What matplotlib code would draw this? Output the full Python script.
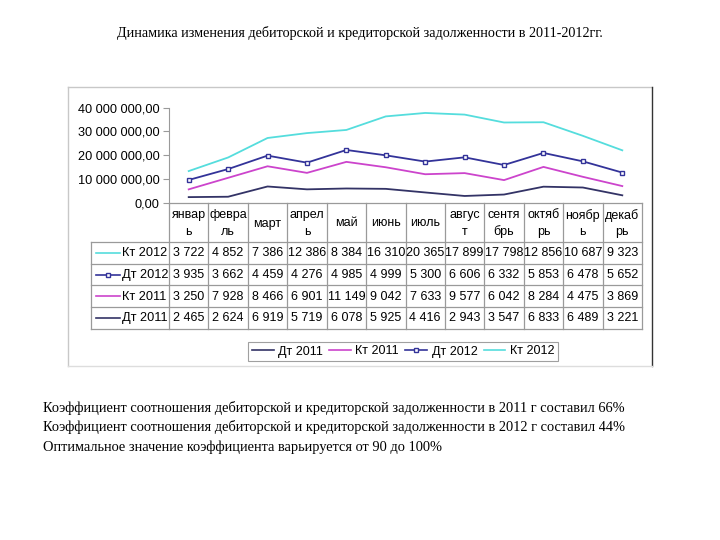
import numpy as np
import matplotlib
matplotlib.use("Agg")
import matplotlib.pyplot as plt
from matplotlib.ticker import FuncFormatter
from matplotlib.lines import Line2D

# ---- данные (тыс. руб.)
months = ["январ\nь", "февра\nль", "март", "апрел\nь", "май", "июнь", "июль",
          "авгус\nт", "сентя\nбрь", "октяб\nрь", "ноябр\nь", "декаб\nрь"]
dt_2011 = [2465, 2624, 6919, 5719, 6078, 5925, 4416, 2943, 3547, 6833, 6489, 3221]
kt_2011 = [3250, 7928, 8466, 6901, 11149, 9042, 7633, 9577, 6042, 8284, 4475, 3869]
dt_2012 = [3935, 3662, 4459, 4276, 4985, 4999, 5300, 6606, 6332, 5853, 6478, 5652]
kt_2012 = [3722, 4852, 7386, 12386, 8384, 16310, 20365, 17899, 17798, 12856, 10687, 9323]
yticks = [0, 10e6, 20e6, 30e6, 40e6]

title = "Динамика изменения дебиторской и кредиторской задолженности в 2011-2012гг."
notes = [
    "Коэффициент соотношения дебиторской и кредиторской задолженности в 2011 г составил 66%",
    "Коэффициент соотношения дебиторской и кредиторской задолженности в 2012 г составил 44%",
    "Оптимальное значение коэффициента варьируется от 90 до 100%",
]

# ---- стиль
SANS = ["Liberation Sans", "DejaVu Sans"]
SERIF = ["Liberation Serif", "DejaVu Serif"]
C_DT11 = "#333366"
C_KT11 = "#cc44cc"
C_DT12 = "#333399"
C_KT12 = "#55dddd"
GRID = "#9a9a9a"

series = [  # порядок накопления (линейчатая диаграмма с накоплением)
    ("Дт 2011", dt_2011, C_DT11, None),
    ("Кт 2011", kt_2011, C_KT11, None),
    ("Дт 2012", dt_2012, C_DT12, "s"),
    ("Кт 2012", kt_2012, C_KT12, None),
]

W, H = 720, 540
fig = plt.figure(figsize=(7.2, 5.4), dpi=100)

# overlay в пикселях: рамка, таблица, тексты
ov = fig.add_axes([0, 0, 1, 1])
ov.set_xlim(0, W)
ov.set_ylim(H, 0)
ov.axis("off")

# рамка области диаграммы
ov.plot([68, 652], [87, 87], color="#c8c8c8", lw=1)
ov.plot([68, 68], [87, 366], color="#c8c8c8", lw=1)
ov.plot([652, 652], [87, 366], color="#333333", lw=1)
ov.plot([68, 652], [366, 366], color="#dddddd", lw=1)

# ---- область построения
L, R, Y0, Y40 = 169, 642, 203, 107.5
ax = fig.add_axes([L / W, 1 - Y0 / H, (R - L) / W, (Y0 - Y40) / H])
ax.set_facecolor("none")
x = np.arange(len(months)) + 0.5
stack = np.cumsum([np.array(s[1]) * 1000 for s in series], axis=0)
for (name, vals, col, mk), top in zip(series, stack):
    ax.plot(x, top, color=col, lw=1.3, marker=mk, ms=3.2, mfc="white",
            mec=col, mew=1.0, clip_on=False)
ax.set_xlim(0, len(months))
ax.set_ylim(0, 40e6)
ax.set_yticks(yticks)
ax.yaxis.set_major_formatter(FuncFormatter(
    lambda v, p: f"{v:,.2f}".replace(",", " ").replace(".", ",")))
ax.set_xticks([])
for lab in ax.get_yticklabels():
    lab.set_fontfamily(SANS)
    lab.set_fontsize(9.2)
ax.tick_params(axis="y", length=4, color=GRID, pad=3)
for s in ("top", "right", "bottom"):
    ax.spines[s].set_visible(False)
ax.spines["left"].set_color(GRID)

# ---- таблица данных
colw = (R - L) / len(months)
edges = [L + colw * i for i in range(len(months) + 1)]
rows_top, rowh = 242, 21.7
n_rows = len(series)
ov.plot([L, R], [Y0, Y0], color=GRID, lw=0.9)
for e in edges:
    ov.plot([e, e], [Y0, rows_top + rowh * n_rows], color=GRID, lw=0.9)
ov.plot([91, 91], [rows_top, rows_top + rowh * n_rows], color=GRID, lw=0.9)
for i in range(n_rows + 1):
    yy = rows_top + rowh * i
    ov.plot([91, R], [yy, yy], color=GRID, lw=0.9)
for i, m in enumerate(months):
    ov.text(L + colw * (i + 0.5), (Y0 + rows_top) / 2 + 1, m, ha="center", va="center",
            fontsize=9.0, family=SANS, linespacing=1.5)
for r, (name, vals, col, mk) in enumerate(series[::-1]):
    yc = rows_top + rowh * (r + 0.5)
    ov.plot([96, 120], [yc, yc], color=col, lw=1.2)
    if mk:
        ov.plot([108], [yc], marker=mk, ms=3.2, mfc="white", mec=col, mew=1.0)
    ov.text(122, yc + 0.5, name, ha="left", va="center", fontsize=9.2, family=SANS)
    for i, v in enumerate(vals):
        ov.text(L + colw * (i + 0.5), yc + 0.5, f"{v:,}".replace(",", " "),
                ha="center", va="center", fontsize=9.0, family=SANS)

# ---- легенда
handles = [Line2D([0], [0], color=c, lw=1.2, marker=mk, ms=3.2, mfc="white", mec=c, mew=1.0)
           for _, _, c, mk in series]
leg = fig.legend(handles, [s[0] for s in series], loc="center",
                 bbox_to_anchor=(403 / W, 1 - 351.5 / H), ncol=4, frameon=True,
                 fancybox=False, edgecolor="#888888", handlelength=1.75,
                 handletextpad=0.35, columnspacing=0.5, borderpad=0.3,
                 prop={"family": SANS, "size": 9.0})
leg.get_frame().set_linewidth(0.8)

# ---- тексты
ov.text(360, 33, title, ha="center", va="center", fontsize=10.2, family=SERIF)
for i, t in enumerate(notes):
    ov.text(43, 408 + 19.5 * i, t, ha="left", va="center", fontsize=10.4, family=SERIF)

fig.savefig("out.png", dpi=100)
